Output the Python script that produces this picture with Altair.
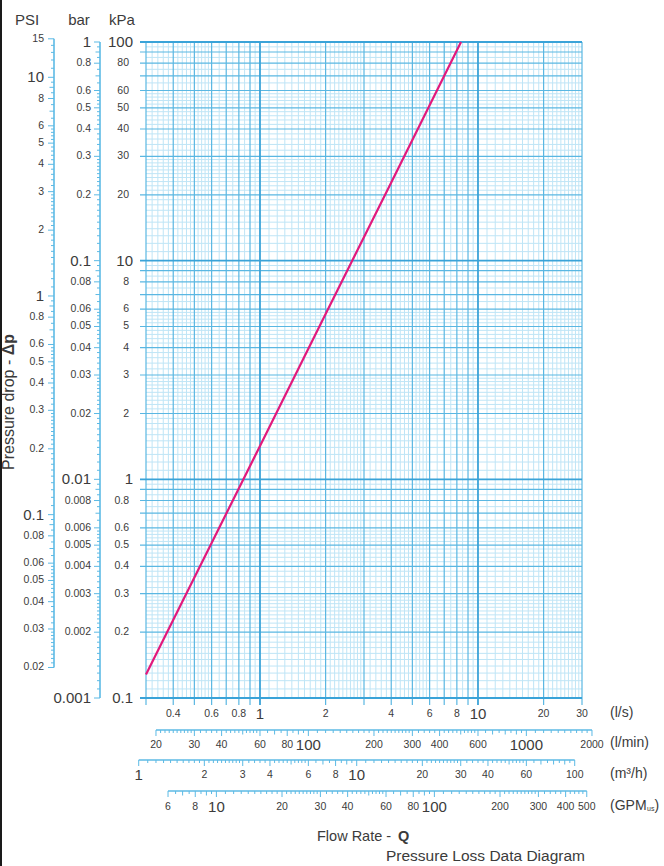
import math
import altair as alt
import pandas as pd

# ---------------- data ----------------
flow_ls = [0.3, 1.0, 2.0, 4.0, 8.36]          # flow rate (l/s)
dp_kpa = [0.128, 1.42, 5.7, 22.8, 100.0]       # pressure drop (kPa)

psi_labels = [15, 10, 8, 6, 5, 4, 3, 2, 1, 0.8, 0.6, 0.5, 0.4, 0.3, 0.2,
              0.1, 0.08, 0.06, 0.05, 0.04, 0.03, 0.02]
psi_big = [10, 1, 0.1]
bar_labels = [1, 0.8, 0.6, 0.5, 0.4, 0.3, 0.2, 0.1, 0.08, 0.06, 0.05, 0.04,
              0.03, 0.02, 0.01, 0.008, 0.006, 0.005, 0.004, 0.003, 0.002, 0.001]
bar_big = [1, 0.1, 0.01, 0.001]
kpa_labels = [100, 80, 60, 50, 40, 30, 20, 10, 8, 6, 5, 4, 3, 2, 1,
              0.8, 0.6, 0.5, 0.4, 0.3, 0.2, 0.1]
kpa_big = [100, 10, 1, 0.1]
ls_labels = [0.4, 0.6, 0.8, 1, 2, 4, 6, 8, 10, 20, 30]
ls_big = [1, 10]
lmin_labels = [20, 30, 40, 60, 80, 100, 200, 300, 400, 600, 1000, 2000]
lmin_big = [100, 1000]
m3h_labels = [1, 2, 3, 4, 6, 8, 10, 20, 30, 40, 60, 100]
m3h_big = [1, 10]
gpm_labels = [6, 8, 10, 20, 30, 40, 60, 80, 100, 200, 300, 400, 500]
gpm_big = [10, 100]

# unit conversions to the plotted scales (kPa, l/s)
KPA_PER_PSI = 6.894757
KPA_PER_BAR = 100.0
LS_PER_LMIN = 1 / 60.0
LS_PER_M3H = 1 / 3.6
LS_PER_GPM = 0.0630902

# log-paper subdivision pattern (mantissa ranges and steps)
SUBDIV = [(1, 3, 0.1), (3, 6, 0.2), (6, 10, 0.5)]

# ---------------- style ----------------
W, H = 436, 656
PAD = {"left": 146, "top": 42, "right": 82, "bottom": 168}
LIGHT = "#bfe5f6"
DARK = "#5ab7e2"
DECADE = "#3aa3d8"
AXC = "#5cbae5"
TXT = "#3b3b3b"
LINEC = "#e2197c"
FONT = "Liberation Sans"
SMALL = 10.5
BIG = 15

xs = alt.Scale(type="log", domain=[0.3, 30], nice=False)
ys = alt.Scale(type="log", domain=[0.1, 100], nice=False)


def X(f):
    return alt.X(f"{f}:Q", scale=xs, axis=None)


def Y(f):
    return alt.Y(f"{f}:Q", scale=ys, axis=None)


def ladder(lo, hi):
    out = []
    e = math.floor(math.log10(lo) + 1e-9)
    while 10 ** e <= hi * (1 + 1e-9):
        d = 10 ** e
        for a, b, s in SUBDIV:
            n = int(round((b - a) / s))
            for i in range(n):
                m = round(a + i * s, 6)
                v = round(m * d, 9)
                if lo * (1 - 1e-9) <= v <= hi * (1 + 1e-9):
                    out.append((v, m))
        e += 1
    return out


def fmt(v):
    return ("%.4f" % v).rstrip("0").rstrip(".")


def isint(m):
    return abs(m - round(m)) < 1e-6


layers = []

# ---------------- grid ----------------
gv = ladder(0.3, 30)
gh = ladder(0.1, 100)


def gkind(m):
    if abs(m - 1) < 1e-6:
        return "decade"
    return "int" if isint(m) else "minor"


for k, col, sw in [("minor", LIGHT, 1), ("int", DARK, 1.2), ("decade", DECADE, 1.8)]:
    ext = 0 if k == "minor" else 7
    dv = pd.DataFrame({"v": [v for v, m in gv if gkind(m) == k]})
    dh = pd.DataFrame({"v": [v for v, m in gh if gkind(m) == k]})
    layers.append(alt.Chart(dv).mark_rule(color=col, strokeWidth=sw).encode(
        x=X("v"), y=alt.value(0), y2=alt.value(H + ext)))
    layers.append(alt.Chart(dh).mark_rule(color=col, strokeWidth=sw).encode(
        y=Y("v"), x=alt.value(-(6 if ext else 0)), x2=alt.value(W)))

# ---------------- curve ----------------
layers.append(alt.Chart(pd.DataFrame({"q": flow_ls, "dp": dp_kpa})).mark_line(
    color=LINEC, strokeWidth=2.2).encode(x=X("q"), y=Y("dp")))


# ---------------- left axes ----------------
def label_layers_v(labels, big, factor, x_small, x_big):
    out = []
    bigset = {round(v, 9) for v in big}
    for isbig, fs, lx in [(False, SMALL, x_small), (True, BIG, x_big)]:
        vals = [v for v in labels if (round(v, 9) in bigset) == isbig]
        df = pd.DataFrame({"y": [v * factor for v in vals], "t": [fmt(v) for v in vals]})
        out.append(alt.Chart(df).mark_text(align="right", baseline="middle", font=FONT,
                                           fontSize=fs, color=TXT).encode(
            y=Y("y"), x=alt.value(lx), text="t:N"))
    return out


def left_axis(lo, hi, factor, labels, big, line_x, x_small, x_big):
    out = []
    labset = {round(v, 9) for v in labels}
    groups = {"minor": [], "int": [], "lab": []}
    for v, m in ladder(lo, hi):
        if round(v, 9) in labset:
            groups["lab"].append(v)
        elif isint(m):
            groups["int"].append(v)
        else:
            groups["minor"].append(v)
    for k, ln in [("minor", 3), ("int", 4.5), ("lab", 6)]:
        df = pd.DataFrame({"y": [v * factor for v in groups[k]]})
        out.append(alt.Chart(df).mark_rule(color=AXC, strokeWidth=1).encode(
            y=Y("y"), x=alt.value(line_x - ln), x2=alt.value(line_x)))
    df = pd.DataFrame({"a": [lo * factor], "b": [hi * factor]})
    out.append(alt.Chart(df).mark_rule(color=AXC, strokeWidth=1.6).encode(
        y=Y("a"), y2=alt.Y2("b"), x=alt.value(line_x)))
    out += label_layers_v(labels, big, factor, x_small, x_big)
    return out


layers += left_axis(0.02, 15, KPA_PER_PSI, psi_labels, psi_big, -92, -102, -102)
layers += left_axis(0.001, 1, KPA_PER_BAR, bar_labels, bar_big, -46, -55, -55)
layers += label_layers_v(kpa_labels, kpa_big, 1.0, -17, -13)


# ---------------- bottom axes ----------------
def label_layers_h(labels, big, factor, lab_y):
    out = []
    bigset = {round(v, 9) for v in big}
    for isbig, fs in [(False, SMALL), (True, BIG)]:
        vals = [v for v in labels if (round(v, 9) in bigset) == isbig]
        df = pd.DataFrame({"x": [v * factor for v in vals], "t": [fmt(v) for v in vals]})
        out.append(alt.Chart(df).mark_text(align="center", baseline="middle", font=FONT,
                                           fontSize=fs, color=TXT).encode(
            x=X("x"), y=alt.value(lab_y), text="t:N"))
    return out


def bottom_axis(lo, hi, factor, labels, big, line_y, lab_y):
    out = []
    labset = {round(v, 9) for v in labels}
    groups = {"minor": [], "int": [], "lab": []}
    for v, m in ladder(lo, hi):
        if round(v, 9) in labset:
            groups["lab"].append(v)
        elif isint(m):
            groups["int"].append(v)
        else:
            groups["minor"].append(v)
    for k, ln in [("minor", 3), ("int", 4.5), ("lab", 6)]:
        df = pd.DataFrame({"x": [v * factor for v in groups[k]]})
        out.append(alt.Chart(df).mark_rule(color=AXC, strokeWidth=1).encode(
            x=X("x"), y=alt.value(line_y), y2=alt.value(line_y + ln)))
    df = pd.DataFrame({"a": [lo * factor], "b": [hi * factor]})
    out.append(alt.Chart(df).mark_rule(color=AXC, strokeWidth=1.6).encode(
        x=X("a"), x2=alt.X2("b"), y=alt.value(line_y)))
    out += label_layers_h(labels, big, factor, lab_y)
    return out


layers += label_layers_h(ls_labels, ls_big, 1.0, 672)
layers += bottom_axis(20, 2000, LS_PER_LMIN, lmin_labels, lmin_big, 688, 703)
layers += bottom_axis(1, 100, LS_PER_M3H, m3h_labels, m3h_big, 718, 733)
layers += bottom_axis(6, 500, LS_PER_GPM, gpm_labels, gpm_big, 749, 765)


# ---------------- free texts ----------------
def txt(s, x, y, size=14, align="left", weight="normal", angle=0, baseline="middle"):
    return alt.Chart(pd.DataFrame({"t": [s]})).mark_text(
        align=align, baseline=baseline, font=FONT, fontSize=size, color=TXT,
        fontWeight=weight, angle=angle).encode(
        x=alt.value(x), y=alt.value(y), text="t:N")


# headers of the left scales
layers.append(txt("PSI", -119, -22, 15, "center"))
layers.append(txt("bar", -67, -22, 15, "center"))
layers.append(txt("kPa", -24, -22, 15, "center"))

# unit labels
layers.append(txt("(l/s)", 464, 671, 14))
layers.append(txt("(l/min)", 464, 701, 14))
layers.append(txt("(m³/h)", 464, 732, 14))
layers.append(txt("(GPM", 464, 764, 14))
layers.append(txt("us", 501, 767, 7))
layers.append(txt(")", 508.5, 764, 14))

# axis titles
layers.append(txt("Flow Rate - ", 171, 799, 14.5, baseline="alphabetic"))
layers.append(txt("Q", 252, 799, 14.5, weight="bold", baseline="alphabetic"))
layers.append(txt("Pressure drop - ", -137, 428, 16, angle=270))
layers.append(txt("Δp", -137, 313.3, 16, weight="bold", angle=270))
layers.append(txt("Pressure Loss Data Diagram", 240, 819, 15.5, baseline="alphabetic"))

# dark left page border
layers.append(alt.Chart(pd.DataFrame({"a": [0]})).mark_rule(color="#1a1a1a", strokeWidth=2).encode(
    x=alt.value(-145), y=alt.value(-42), y2=alt.value(H + 168)))

chart = alt.layer(*layers).properties(
    width=W, height=H, padding=PAD,
    autosize=alt.AutoSizeParams(type="none"),
    background="white",
).configure_view(stroke=None)

chart.save("out.html", embed_options={"renderer": "svg", "actions": False})
